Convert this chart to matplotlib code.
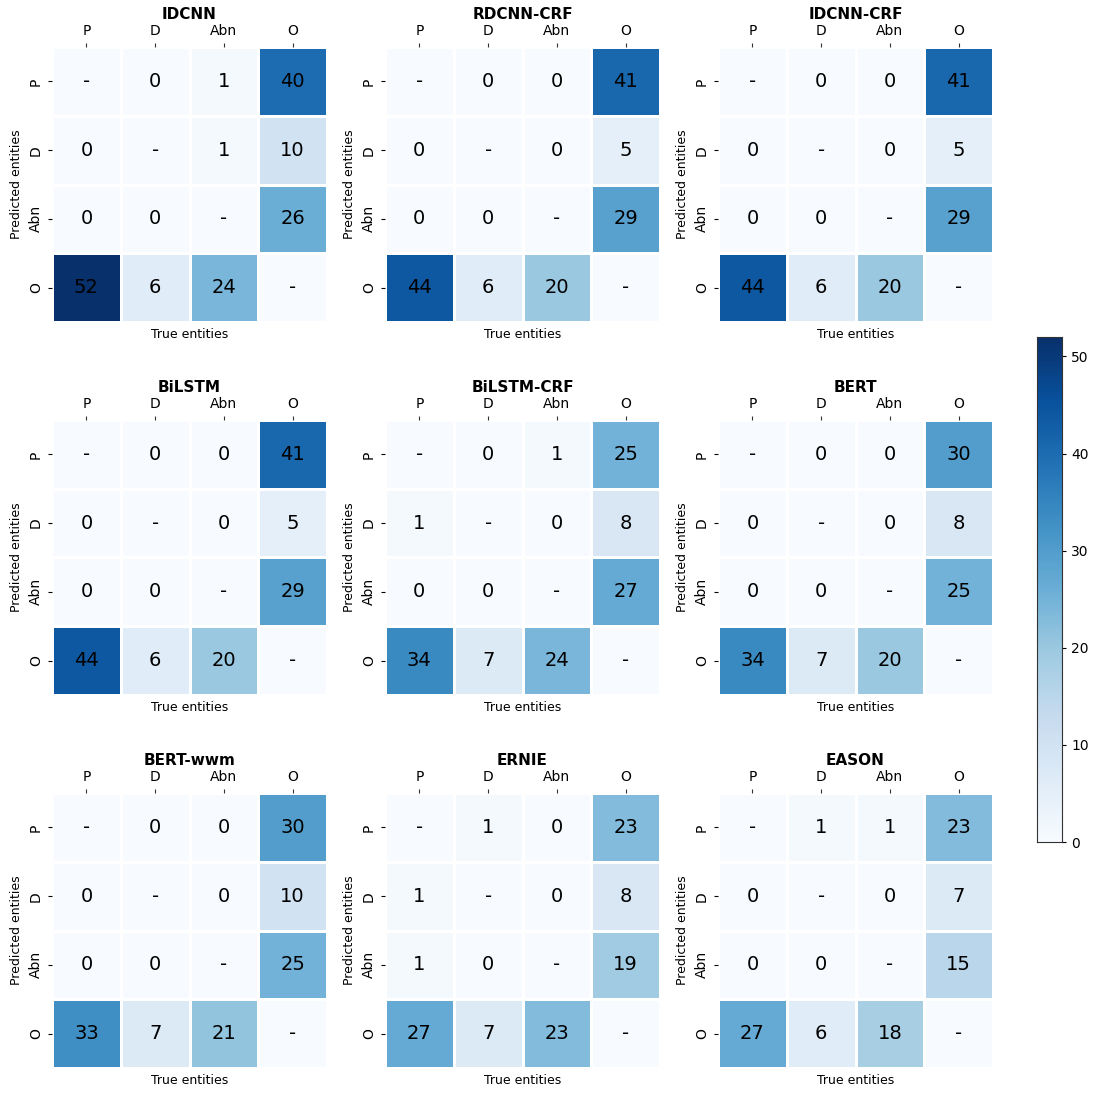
import matplotlib
matplotlib.use("Agg")
import matplotlib.pyplot as plt
import seaborn as sns
import numpy as np

labels = ["P", "D", "Abn", "O"]
models = ["IDCNN", "RDCNN-CRF", "IDCNN-CRF",
          "BiLSTM", "BiLSTM-CRF", "BERT",
          "BERT-wwm", "ERNIE", "EASON"]

# rows = predicted, cols = true; diagonal shown as "-"
idcnn = [[0, 0, 1, 40], [0, 0, 1, 10], [0, 0, 0, 26], [52, 6, 24, 0]]
rdcnn_crf = [[0, 0, 0, 41], [0, 0, 0, 5], [0, 0, 0, 29], [44, 6, 20, 0]]
idcnn_crf = [[0, 0, 0, 41], [0, 0, 0, 5], [0, 0, 0, 29], [44, 6, 20, 0]]
bilstm = [[0, 0, 0, 41], [0, 0, 0, 5], [0, 0, 0, 29], [44, 6, 20, 0]]
bilstm_crf = [[0, 0, 1, 25], [1, 0, 0, 8], [0, 0, 0, 27], [34, 7, 24, 0]]
bert = [[0, 0, 0, 30], [0, 0, 0, 8], [0, 0, 0, 25], [34, 7, 20, 0]]
bert_wwm = [[0, 0, 0, 30], [0, 0, 0, 10], [0, 0, 0, 25], [33, 7, 21, 0]]
ernie = [[0, 1, 0, 23], [1, 0, 0, 8], [1, 0, 0, 19], [27, 7, 23, 0]]
eason = [[0, 1, 1, 23], [0, 0, 0, 7], [0, 0, 0, 15], [27, 6, 18, 0]]
matrices = [idcnn, rdcnn_crf, idcnn_crf, bilstm, bilstm_crf, bert,
            bert_wwm, ernie, eason]

W, H = 1094, 1093
fig = plt.figure(figsize=(W / 100, H / 100), dpi=100)

vmax = 52
lefts = [52, 385, 718]
tops = [47, 420, 793]
size = 275

cbar_ax = fig.add_axes([1037 / W, 1 - 842 / H, 25 / W, 505 / H])

for i, (name, m) in enumerate(zip(models, matrices)):
    r, c = divmod(i, 3)
    ax = fig.add_axes([lefts[c] / W, 1 - (tops[r] + size) / H, size / W, size / H])
    m = np.array(m)
    annot = np.array([[("-" if a == b else str(m[a, b])) for b in range(4)] for a in range(4)])
    sns.heatmap(m, ax=ax, cmap="Blues", vmin=0, vmax=vmax, annot=annot, fmt="",
                annot_kws={"size": 14, "color": "black"},
                linewidths=2, linecolor="white",
                xticklabels=labels, yticklabels=labels,
                cbar=(i == 0), cbar_ax=cbar_ax if i == 0 else None)
    ax.xaxis.tick_top()
    ax.set_title(name, fontsize=11, fontweight="bold", pad=20)
    ax.set_xlabel("True entities", fontsize=9)
    ax.set_ylabel("Predicted entities", fontsize=9)
    ax.tick_params(axis="x", labelsize=10, length=3, colors="#333333", labelcolor="black")
    ax.tick_params(axis="y", labelsize=10, length=3, rotation=90)
    for t in ax.get_yticklabels():
        t.set_va("center")

cbar_ax.tick_params(labelsize=10, length=3)
for s in cbar_ax.spines.values():
    s.set_visible(True)
    s.set_edgecolor("#333333")

fig.savefig("out.png", dpi=100)
